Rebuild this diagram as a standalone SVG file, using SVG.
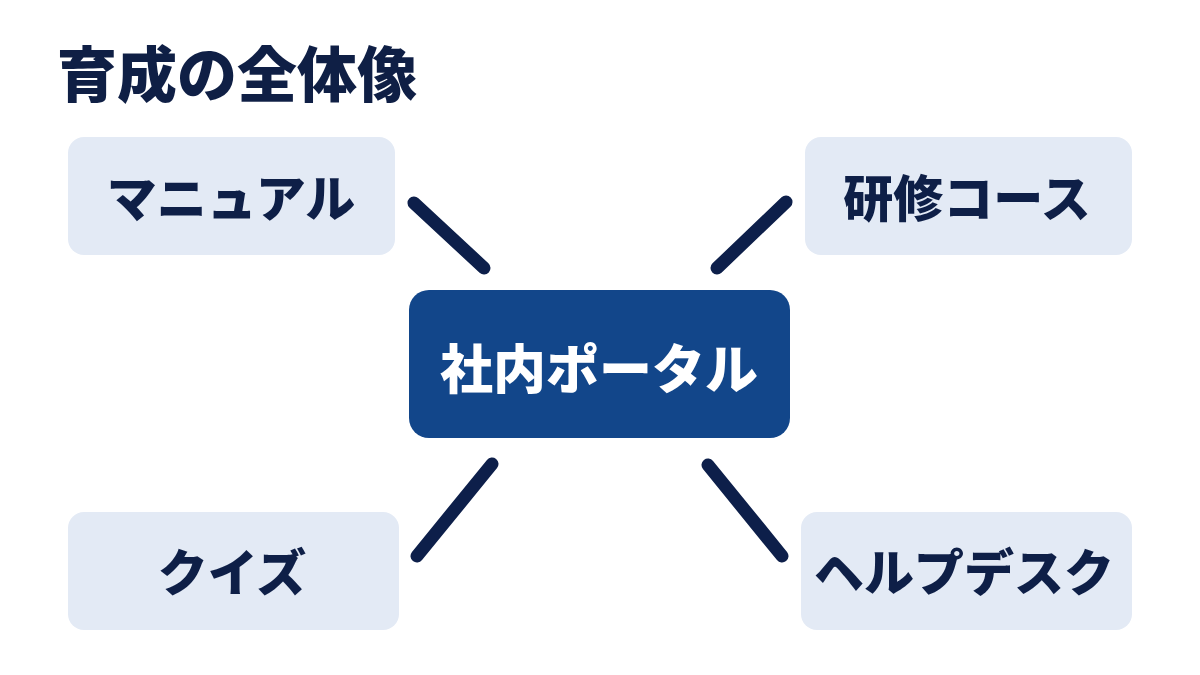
<svg xmlns="http://www.w3.org/2000/svg" width="1200" height="675" viewBox="0 0 1200 675">
  <style>
    .t { font-family: "Noto Sans CJK JP", "Noto Sans", sans-serif; font-weight: 900; text-anchor: middle; dominant-baseline: central; }
    .box { fill: #e3eaf5; }
    .lbl { fill: #0e1f47; font-size: 50px; }
    .conn { stroke: #0d1f4a; stroke-width: 13; stroke-linecap: round; fill: none; }
  </style>
  <rect width="1200" height="675" fill="#ffffff"/>
  <text id="title" x="57" y="70" class="t" style="text-anchor:start" font-size="60" fill="#0f1f45">育成の全体像</text>
  <g id="connectors">
    <line class="conn" x1="414" y1="203" x2="484" y2="268"/>
    <line class="conn" x1="786" y1="202" x2="717" y2="268"/>
    <line class="conn" x1="492" y1="464" x2="417" y2="556"/>
    <line class="conn" x1="708" y1="465" x2="782" y2="556"/>
  </g>
  <g id="portal">
    <rect x="409" y="290" width="381" height="148" rx="20" fill="#12468a"/>
    <text x="599" y="366" class="t" font-size="53" fill="#ffffff">社内ポータル</text>
  </g>
  <g id="manual">
    <rect class="box" x="68" y="137" width="327" height="118" rx="16"/>
    <text x="231" y="195" class="t lbl">マニュアル</text>
  </g>
  <g id="course">
    <rect class="box" x="805" y="137" width="327" height="118" rx="16"/>
    <text x="967" y="195" class="t lbl">研修コース</text>
  </g>
  <g id="quiz">
    <rect class="box" x="68" y="512" width="331" height="118" rx="16"/>
    <text x="232" y="569" class="t lbl">クイズ</text>
  </g>
  <g id="helpdesk">
    <rect class="box" x="801" y="512" width="331" height="118" rx="16"/>
    <text x="964" y="569" class="t lbl">ヘルプデスク</text>
  </g>
</svg>
